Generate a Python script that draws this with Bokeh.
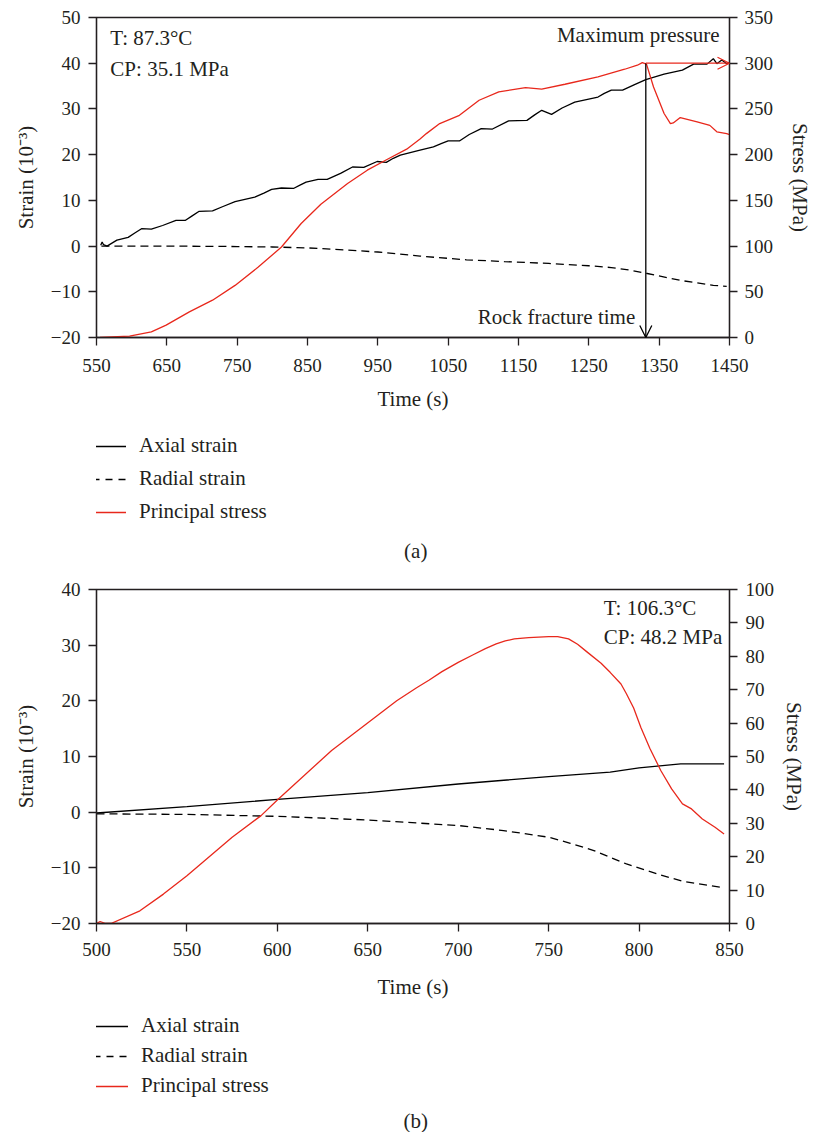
from bokeh.plotting import figure
from bokeh.models import (Range1d, LinearAxis, FixedTicker, Legend, LegendItem,
                          Label, Arrow, OpenHead)
from bokeh.layouts import column
from bokeh.embed import file_html
from bokeh.resources import INLINE

# ---------------- data: panel (a) ----------------
a_axial_t = [556, 558, 560, 565, 579, 595, 605, 614, 628, 644, 663, 676, 686, 696, 715, 729,
             747, 775, 788, 799, 813, 830, 840, 848, 865, 878, 897, 914, 930, 949, 962, 972,
             982, 1010, 1029, 1040, 1050, 1066, 1080, 1097, 1113, 1136, 1162, 1173, 1183, 1197,
             1212, 1230, 1263, 1272, 1282, 1298, 1315, 1331, 1357, 1383, 1399, 1418, 1427,
             1432, 1439, 1446, 1450]
a_axial = [0.2, 0.9, 0.3, 0.0, 1.3, 1.9, 2.9, 3.8, 3.7, 4.5, 5.6, 5.6, 6.6, 7.6, 7.7, 8.6,
           9.7, 10.7, 11.6, 12.4, 12.7, 12.6, 13.4, 14.0, 14.6, 14.6, 15.9, 17.3, 17.2, 18.5,
           18.3, 19.2, 19.9, 21.0, 21.7, 22.4, 23.0, 23.0, 24.4, 25.7, 25.6, 27.4, 27.5, 28.7,
           29.7, 28.8, 30.2, 31.5, 32.6, 33.4, 34.1, 34.1, 35.3, 36.4, 37.6, 38.5, 39.8, 39.8,
           41.0, 39.9, 40.7, 39.9, 40.2]
a_radial_t = [557, 650, 750, 800, 850, 888, 950, 1010, 1076, 1130, 1193, 1250, 1282, 1310,
              1333, 1380, 1427, 1446]
a_radial = [0, 0, -0.1, -0.2, -0.4, -0.7, -1.3, -2.2, -3.0, -3.4, -3.8, -4.3, -4.7, -5.3,
            -6.0, -7.5, -8.6, -8.8]
a_stress_t = [555, 597, 628, 649, 682, 715, 747, 780, 813, 841, 869, 907, 935, 963, 991, 1010,
              1019, 1038, 1066, 1094, 1122, 1160, 1183, 1216, 1263, 1301, 1319, 1326, 1332,
              1342, 1357, 1366, 1370, 1380, 1404, 1422, 1432, 1446, 1450]
a_stress = [0, 1.4, 6.1, 13.5, 28, 40.8, 57, 77, 99, 124.7, 145.8, 168.4, 183, 194.7, 206,
            217, 223, 234, 243, 259.5, 268.6, 273.4, 271.6, 277, 285, 293.4, 297.8, 300.7,
            299, 274, 245, 234, 234.7, 240.6, 235.8, 232, 225, 223, 222]
a_fracture_time = 1331
a_max_pressure = 300

# ---------------- data: panel (b) ----------------
b_axial_t = [500, 550, 600, 650, 700, 750, 784, 800, 823, 847]
b_axial = [-0.15, 1.0, 2.3, 3.5, 5.06, 6.4, 7.2, 7.94, 8.66, 8.66]
b_radial_t = [500, 550, 600, 650, 700, 725, 750, 762, 775, 793, 811, 824, 845]
b_radial = [-0.3, -0.4, -0.75, -1.4, -2.4, -3.3, -4.5, -5.6, -6.9, -9.3, -11.2, -12.4, -13.5]
b_stress_t = [500, 502, 505, 508, 524, 537, 550, 575, 591, 600, 630, 666, 677, 684, 691, 700,
              708, 715, 721, 726, 731, 739, 750, 755, 761, 766, 771, 779, 784, 790, 793, 797,
              801, 806, 812, 818, 824, 829, 835, 842, 847]
b_stress = [0, 0.6, 0, 0, 3.8, 8.8, 14.3, 25.8, 32.3, 37, 51.8, 66.7, 70.6, 72.9, 75.4, 78.2,
            80.4, 82.3, 83.7, 84.6, 85.2, 85.6, 85.9, 85.9, 85.2, 83.6, 81.4, 77.9, 75.2, 71.7,
            68.8, 64.5, 58.7, 52.4, 45.8, 40.3, 35.8, 34.3, 31.3, 28.8, 26.8]

# ticks
a_xticks = [550, 650, 750, 850, 950, 1050, 1150, 1250, 1350, 1450]
a_yticks = [-20, -10, 0, 10, 20, 30, 40, 50]
a_sticks = [0, 50, 100, 150, 200, 250, 300, 350]
b_xticks = [500, 550, 600, 650, 700, 750, 800, 850]
b_yticks = [-20, -10, 0, 10, 20, 30, 40]
b_sticks = [0, 10, 20, 30, 40, 50, 60, 70, 80, 90, 100]

series_names = ["Axial strain", "Radial strain", "Principal stress"]

FONT = "Liberation Serif"
TXT = "#231f20"
RED = "#e8281c"
TICK_FS = "19px"
FS = "21px"
W = 815
NAN = float("nan")


def style_axis(ax, ticks, label_standoff, title_standoff):
    ax.ticker = FixedTicker(ticks=ticks)
    ax.major_tick_out = 8
    ax.major_tick_in = 0
    ax.minor_tick_out = 0
    ax.minor_tick_in = 0
    ax.axis_line_color = TXT
    ax.axis_line_width = 1.3
    ax.major_tick_line_color = TXT
    ax.major_tick_line_width = 1.3
    ax.major_label_text_font = FONT
    ax.major_label_text_font_size = TICK_FS
    ax.major_label_text_color = TXT
    ax.major_label_standoff = label_standoff
    ax.axis_label_text_font = FONT
    ax.axis_label_text_font_size = FS
    ax.axis_label_text_font_style = "normal"
    ax.axis_label_text_color = TXT
    ax.axis_label_standoff = title_standoff
    ax.major_label_overrides = {t: ("\u2212" + str(-t)) for t in ticks if t < 0}


def make_panel(xr, yr, sr, xticks, yticks, sticks, axial_t, axial, radial_t, radial,
               stress_t, stress, height, bl, br, bt, bb, xstand, xtitle, rstand, rtitle):
    p = figure(width=W, height=height, x_range=Range1d(*xr), y_range=Range1d(*yr),
               output_backend="svg", toolbar_location=None,
               min_border_left=bl, min_border_right=br, min_border_top=bt,
               min_border_bottom=bb, x_axis_label="Time (s)",
               y_axis_label="Strain (10\u207b\u00b3)")
    p.extra_y_ranges = {"stress": Range1d(*sr)}
    rax = LinearAxis(y_range_name="stress", axis_label="Stress (MPa)")
    p.add_layout(rax, "right")
    p.grid.visible = False
    p.outline_line_color = TXT
    p.outline_line_width = 1.3
    p.background_fill_color = "white"
    p.border_fill_color = "white"
    style_axis(p.xaxis[0], xticks, xstand, xtitle)
    style_axis(p.yaxis[0], yticks, 8, 10)
    style_axis(rax, sticks, rstand, rtitle)

    p.line(axial_t, axial, line_color="black", line_width=1.3)
    p.line(radial_t, radial, line_color="black", line_width=1.3, line_dash="8 5")
    p.line(stress_t, stress, line_color=RED, line_width=1.3, y_range_name="stress")
    return p


def make_legend_fig(height, x0, gw, y0, spacing, tag, tag_x, tag_y):
    f = figure(width=W, height=height, x_range=Range1d(0, W), y_range=Range1d(0, height),
               output_backend="svg", toolbar_location=None, x_axis_type=None,
               y_axis_type=None, min_border=0)
    f.outline_line_color = None
    f.background_fill_color = "white"
    f.border_fill_color = "white"
    # legend sample renderers (they carry no visible data)
    s1 = f.line(x=[NAN], y=[NAN], line_color="black", line_width=1.3)
    s2 = f.line(x=[NAN], y=[NAN], line_color="black", line_width=1.3, line_dash="7 6")
    s3 = f.line(x=[NAN], y=[NAN], line_color=RED, line_width=1.3)
    leg = Legend(items=[LegendItem(label=series_names[0], renderers=[s1]),
                        LegendItem(label=series_names[1], renderers=[s2]),
                        LegendItem(label=series_names[2], renderers=[s3])],
                 location=(x0, y0), margin=0, padding=0, border_line_color=None,
                 background_fill_alpha=0, label_text_font=FONT, label_text_font_size=FS,
                 label_text_color=TXT, glyph_width=gw, glyph_height=22, label_height=22,
                 spacing=spacing, label_standoff=13)
    f.add_layout(leg)
    f.add_layout(Label(x=tag_x, y=tag_y, text=tag, text_font=FONT, text_font_size=FS,
                       text_color=TXT, text_align="center", text_baseline="middle"))
    return f


def lab(p, x, y, text, align="left"):
    p.add_layout(Label(x=x, y=y, text=text, text_font=FONT, text_font_size=FS,
                       text_color=TXT, text_align=align, text_baseline="middle"))


# ---------- panel (a) ----------
pa = make_panel((550, 1450), (-20, 50), (0, 350), a_xticks, a_yticks, a_sticks,
                a_axial_t, a_axial, a_radial_t, a_radial, a_stress_t, a_stress,
                417, 93, 82, 17, 80, 13, 12, 7, 12)
lab(pa, 569.7, 45.5, "T: 87.3°C")
lab(pa, 569.7, 38.7, "CP: 35.1 MPa")
lab(pa, 1436, 46.1, "Maximum pressure", "right")
lab(pa, 1316, -15.6, "Rock fracture time", "right")
pa.add_layout(Arrow(end=OpenHead(size=12, line_color="black", line_width=1.3),
                    x_start=a_fracture_time, y_start=a_max_pressure,
                    x_end=a_fracture_time, y_end=0, y_range_name="stress",
                    line_color="black", line_width=1.3))
pa.add_layout(Arrow(end=OpenHead(size=12, line_color=RED, line_width=1.3),
                    x_start=a_fracture_time, y_start=a_max_pressure,
                    x_end=1450, y_end=a_max_pressure, y_range_name="stress",
                    line_color=RED, line_width=1.3))
la = make_legend_fig(148, -4, 34, 41, 8, "(a)", 411, 15)

# ---------- panel (b) ----------
pb = make_panel((500, 850), (-20, 40), (0, 100), b_xticks, b_yticks, b_sticks,
                b_axial_t, b_axial, b_radial_t, b_radial, b_stress_t, b_stress,
                438, 96, 78, 24, 80, 11, 16, 8, 5)
lab(pb, 780.5, 36.6, "T: 106.3°C")
lab(pb, 780.5, 31.4, "CP: 48.2 MPa")
lb = make_legend_fig(129, -3, 35, 34, 5, "(b)", 411, 12)

layout = column(pa, la, pb, lb, spacing=0)
open("out.html", "w").write(file_html(layout, INLINE))
